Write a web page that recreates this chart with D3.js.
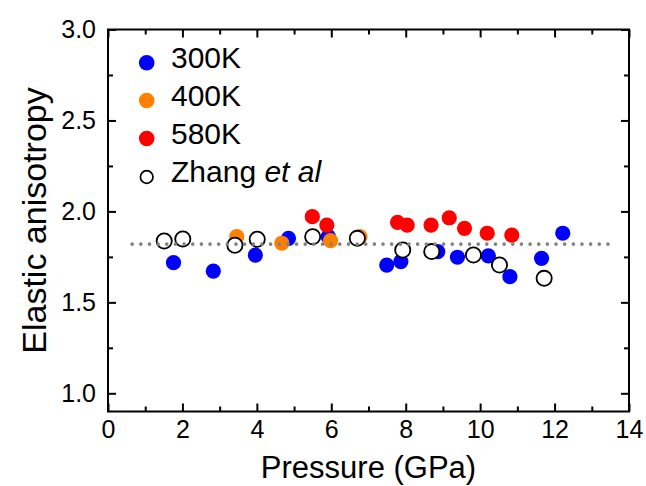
<!DOCTYPE html>
<html><head><meta charset="utf-8">
<script src="https://cdn.jsdelivr.net/npm/d3@7"></script>
<style>
html,body{margin:0;padding:0;background:#fff;}
svg text{font-family:"Liberation Sans",Arial,sans-serif;fill:#000;}
</style></head>
<body><svg id="c" width="646" height="486"></svg>
<script>
// ---- data ----
const series = ["300K", "400K", "580K", "Zhang et al"];
const p300 = [1.76, 2.83, 3.96, 4.85, 5.92, 7.49, 7.87, 8.86, 9.39, 10.22, 10.80, 11.65, 12.22];
const a300 = [1.718, 1.672, 1.760, 1.852, 1.861, 1.705, 1.724, 1.779, 1.748, 1.755, 1.641, 1.742, 1.880];
const p400 = [3.46, 4.67, 5.98, 6.77];
const a400 = [1.861, 1.825, 1.839, 1.861];
const p580 = [5.49, 5.88, 7.78, 8.04, 8.68, 9.17, 9.58, 10.19, 10.85];
const a580 = [1.971, 1.925, 1.940, 1.925, 1.925, 1.965, 1.907, 1.880, 1.870];
const pZhang = [1.51, 2.01, 3.41, 4.01, 5.50, 6.70, 7.92, 8.70, 9.82, 10.52, 11.72];
const aZhang = [1.837, 1.848, 1.814, 1.847, 1.861, 1.852, 1.788, 1.779, 1.760, 1.705, 1.632];
const avgLineP = [0.65, 13.55];
const avgLineA = [1.82, 1.82];
const xTicks = [0, 2, 4, 6, 8, 10, 12, 14];
const xMinor = [1, 3, 5, 7, 9, 11, 13];
const yTicks = [1.0, 1.5, 2.0, 2.5, 3.0];
const yMinor = [1.25, 1.75, 2.25, 2.75];
const xDomain = [0, 14];
const yDomain = [0.9, 3.0];

// ---- layout ----
const L = 108, R = 629, T = 29.5, B = 411.5;
const svg = d3.select("#c");
const x = d3.scaleLinear().domain(xDomain).range([L, R]);
const y = d3.scaleLinear().domain(yDomain).range([B, T]);

function axisStyle(g){ g.select(".domain").remove(); g.selectAll("line").attr("stroke","#000").attr("stroke-width",2); }

const majLen = 8, minLen = 5;
svg.append("g").attr("transform",`translate(0,${B})`)
  .call(d3.axisBottom(x).tickValues(xTicks).tickSize(-majLen).tickPadding(9).tickFormat(d3.format("d")))
  .call(axisStyle)
  .call(g=>g.selectAll("text").attr("font-size",25).attr("font-family","Liberation Sans, Arial"));
svg.append("g").attr("transform",`translate(0,${B})`)
  .call(d3.axisBottom(x).tickValues(xMinor).tickSize(-minLen).tickFormat(""))
  .call(axisStyle);
svg.append("g").attr("transform",`translate(0,${T})`)
  .call(d3.axisTop(x).tickValues(xTicks).tickSize(-majLen).tickFormat(""))
  .call(axisStyle);
svg.append("g").attr("transform",`translate(0,${T})`)
  .call(d3.axisTop(x).tickValues(xMinor).tickSize(-minLen).tickFormat(""))
  .call(axisStyle);
svg.append("g").attr("transform",`translate(${L},0)`)
  .call(d3.axisLeft(y).tickValues(yTicks).tickSize(-majLen).tickPadding(12).tickFormat(d3.format(".1f")))
  .call(axisStyle)
  .call(g=>g.selectAll("text").attr("font-size",25).attr("font-family","Liberation Sans, Arial"));
svg.append("g").attr("transform",`translate(${L},0)`)
  .call(d3.axisLeft(y).tickValues(yMinor).tickSize(-minLen).tickFormat(""))
  .call(axisStyle);
svg.append("g").attr("transform",`translate(${R},0)`)
  .call(d3.axisRight(y).tickValues(yTicks).tickSize(-majLen).tickFormat(""))
  .call(axisStyle);
svg.append("g").attr("transform",`translate(${R},0)`)
  .call(d3.axisRight(y).tickValues(yMinor).tickSize(-minLen).tickFormat(""))
  .call(axisStyle);

svg.append("rect").attr("x",L).attr("y",T).attr("width",R-L).attr("height",B-T)
  .attr("fill","none").attr("stroke","#000").attr("stroke-width",2);

const rad = 7.6;
function dots(px, py, fill, stroke){
  svg.append("g").selectAll("circle").data(px.map((p,i)=>[p,py[i]])).join("circle")
    .attr("cx",d=>x(d[0])).attr("cy",d=>y(d[1])).attr("r",rad)
    .attr("fill",fill).attr("stroke",stroke).attr("stroke-width",stroke==="none"?0:1.8);
}
dots(p300, a300, "#0000ff", "none");
dots(p400, a400, "#ff8000", "none");
dots(p580, a580, "#ff0000", "none");
dots(pZhang, aZhang, "#ffffff", "#000");

svg.append("path").datum(avgLineP.map((p,i)=>[p,avgLineA[i]]))
  .attr("d", d3.line().x(d=>x(d[0])).y(d=>y(d[1])))
  .attr("stroke","#808080").attr("stroke-width",3.6).attr("stroke-linecap","round")
  .attr("stroke-dasharray","0,8.65").attr("fill","none");

const legColors = ["#0000ff","#ff8000","#ff0000","#ffffff"];
const legY = [62.7, 100.5, 138.5, 177];
series.forEach((s,i)=>{
  const c = svg.append("circle").attr("cx",146.7).attr("cy",legY[i])
    .attr("r", i===3 ? 6.3 : 7.8).attr("fill",legColors[i]);
  if(i===3) c.attr("stroke","#000").attr("stroke-width",1.7);
  const t = svg.append("text").attr("x",171).attr("y",legY[i]+5).attr("font-size",30);
  if(i===3){
    t.append("tspan").text("Zhang ");
    t.append("tspan").attr("font-style","italic").text("et al");
  } else t.text(s);
});

svg.append("text").attr("x",(L+R)/2).attr("y",478).attr("text-anchor","middle")
  .attr("font-size",31).text("Pressure (GPa)");
svg.append("text").attr("transform",`translate(46,${(T+B)/2}) rotate(-90)`)
  .attr("text-anchor","middle").attr("font-size",34).text("Elastic anisotropy");
</script></body></html>
